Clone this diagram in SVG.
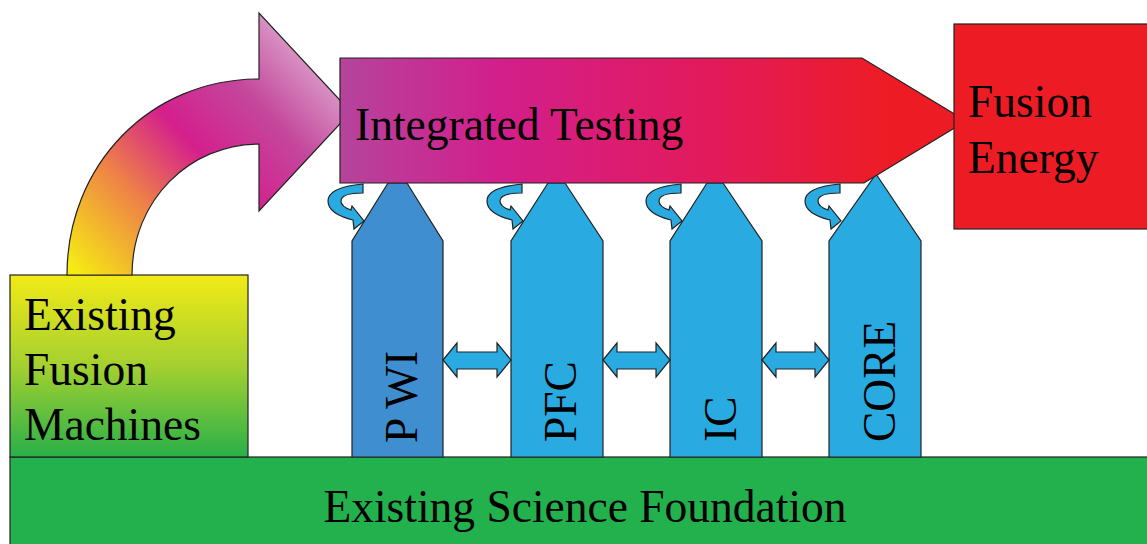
<svg xmlns="http://www.w3.org/2000/svg" width="1147" height="544" viewBox="0 0 1147 544">
<defs>
<linearGradient id="gCurve" gradientUnits="userSpaceOnUse" x1="80" y1="275" x2="330" y2="40">
<stop offset="0" stop-color="#f6ea14"/>
<stop offset="0.28" stop-color="#ee8048"/>
<stop offset="0.5" stop-color="#d41f8c"/>
<stop offset="0.72" stop-color="#c4479c"/>
<stop offset="1" stop-color="#e2b8d6"/>
</linearGradient>
<linearGradient id="gTest" x1="0" y1="0" x2="1" y2="0">
<stop offset="0" stop-color="#b5449c"/>
<stop offset="0.25" stop-color="#d21f8c"/>
<stop offset="0.6" stop-color="#e31a5a"/>
<stop offset="0.88" stop-color="#ed1c24"/>
</linearGradient>
<linearGradient id="gMach" x1="0" y1="0" x2="0" y2="1">
<stop offset="0" stop-color="#f2ea16"/>
<stop offset="0.5" stop-color="#a4d030"/>
<stop offset="1" stop-color="#28b04a"/>
</linearGradient>
<path id="curl" d="M363,184 L363,193 C350,193 341,195 341,201 C341,205 345,208 351,210 L352,206 L364,221 L354,229 L353,220 C337,216 328,210 328,201 C328,191 342,186 363,184 Z"/>
</defs>
<style>
.ln{stroke:#222;stroke-width:1.2;stroke-linejoin:miter}
.blue{fill:#29abe2}
.t{font-family:"Liberation Serif","Times New Roman",serif;font-size:45.5px;fill:#000}
</style>
<rect width="1147" height="544" fill="#fff"/>
<g id="foundation">
<rect class="ln" x="10" y="457" width="1140" height="90" fill="#22b14c"/>
<text class="t" x="585" y="522" text-anchor="middle">Existing Science Foundation</text>
</g>
<g id="machines">
<rect class="ln" x="10" y="275" width="238" height="182" fill="url(#gMach)"/>
<text class="t" x="24" y="330">Existing</text>
<text class="t" x="24" y="385">Fusion</text>
<text class="t" x="24" y="440">Machines</text>
</g>
<g id="curved-arrow">
<path class="ln" fill="url(#gCurve)" d="M67,275 C67,165 150,79 259,79 L259,13 L351,112 L259,211 L259,144 C190,144 132,200 132,275 Z"/>
</g>
<g id="pwi">
<path class="ln" fill="#3f8fd0" d="M352,457 L352,241 L388,183 L407,183 L443,241 L443,457 Z"/>
<text class="t" transform="translate(417,443) rotate(-90)">P WI</text>
</g>
<g id="pfc">
<path class="ln blue" d="M511,457 L511,241 L548,183 L565,183 L603,241 L603,457 Z"/>
<text class="t" transform="translate(576,442) rotate(-90)">PFC</text>
</g>
<g id="ic">
<path class="ln blue" d="M670,457 L670,241 L707,183 L723,183 L762,241 L762,457 Z"/>
<text class="t" transform="translate(736,442) rotate(-90)">IC</text>
</g>
<g id="core">
<path class="ln blue" d="M829,457 L829,241 L876,174 L921,241 L921,457 Z"/>
<text class="t" transform="translate(895,442) rotate(-90)">CORE</text>
</g>
<g id="integrated-testing">
<path class="ln" fill="url(#gTest)" d="M340,58 L862,58 L966,121 L864,183 L340,183 Z"/>
<text class="t" x="355" y="140">Integrated Testing</text>
</g>
<g id="fusion-energy">
<rect class="ln" x="954" y="24" width="200" height="205" fill="#ed1c24"/>
<text class="t" x="968" y="117">Fusion</text>
<text class="t" x="968" y="173">Energy</text>
</g>
<g id="connectors">
<use href="#curl" class="ln blue"/>
<use href="#curl" class="ln blue" transform="translate(159,0)"/>
<use href="#curl" class="ln blue" transform="translate(318,0)"/>
<use href="#curl" class="ln blue" transform="translate(477,0)"/>
<path class="ln blue" d="M443,360 L457,343 L457,352 L497,352 L497,343 L511,360 L497,377 L497,369 L457,369 L457,377 Z"/>
<path class="ln blue" d="M603,360 L617,343 L617,352 L656,352 L656,343 L670,360 L656,377 L656,369 L617,369 L617,377 Z"/>
<path class="ln blue" d="M762,360 L776,343 L776,352 L815,352 L815,343 L829,360 L815,377 L815,369 L776,369 L776,377 Z"/>
</g>
</svg>
